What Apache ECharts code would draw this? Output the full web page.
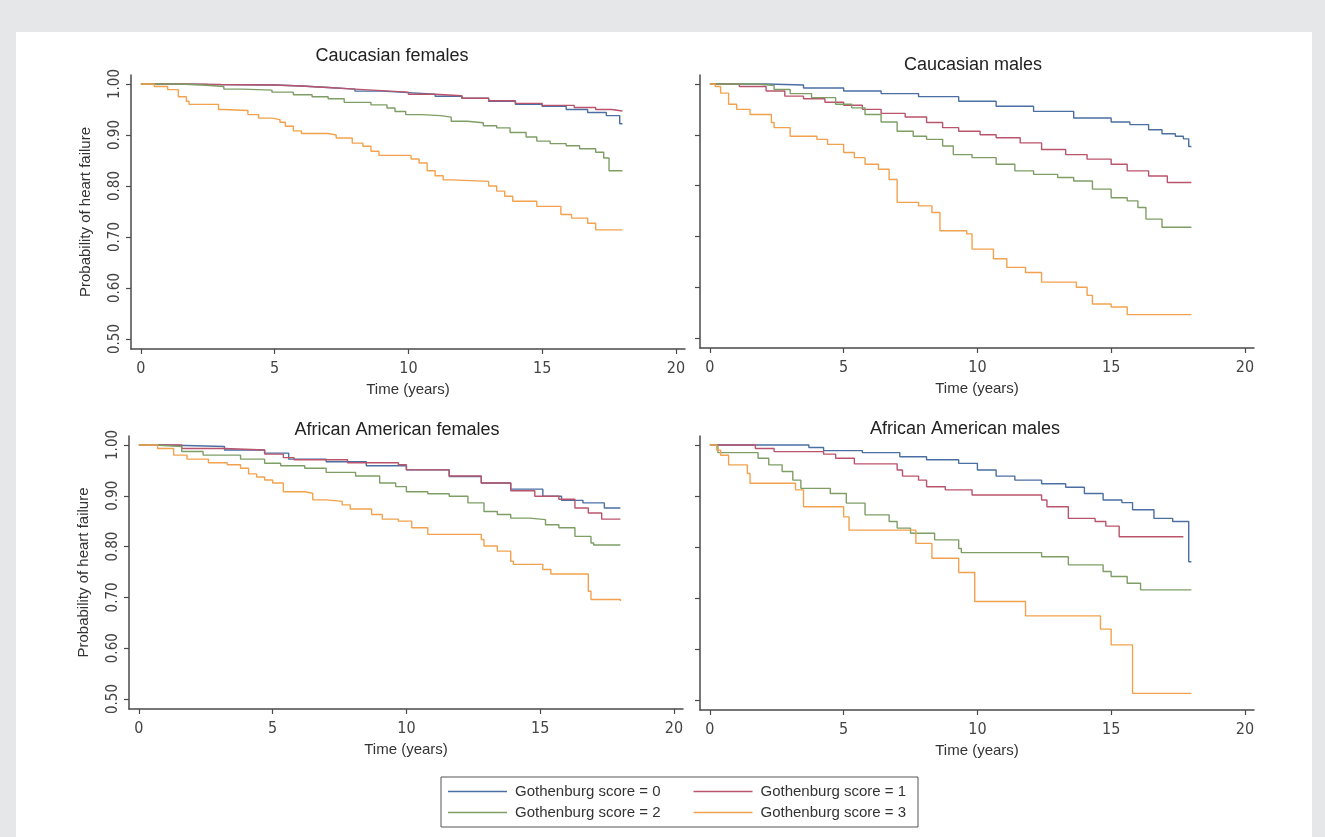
<!DOCTYPE html>
<html>
<head>
<meta charset="utf-8">
<script src="https://cdn.jsdelivr.net/npm/echarts@6/dist/echarts.min.js"></script>
<style>
  html, body { margin: 0; padding: 0; background: #e6e7e8; }
  #chart { width: 1325px; height: 837px; }
</style>
</head>
<body>
<div id="chart"></div>
<script>
// Kaplan-Meier steps: [time (years), survival after the drop]
const cauFem0 = [[0,1],[1,0.999],[2.5,0.998],[5,0.996],[6,0.993],[7,0.99],[8,0.986],[9,0.983],[10,0.98],[11,0.976],[12,0.972],[13,0.966],[14,0.96],[15,0.956],[15.9,0.95],[16.7,0.944],[17.4,0.938],[17.9,0.922],[18,0.922]];
const cauFem1 = [[0,1],[1.5,0.999],[3,0.998],[5,0.996],[6,0.993],[7,0.99],[8,0.987],[9,0.984],[10,0.98],[11,0.977],[12,0.972],[13,0.967],[14,0.962],[15,0.958],[16.2,0.954],[17,0.95],[17.6,0.947],[18,0.947]];
const cauFem2 = [[0,1],[1.4,0.998],[2.3,0.995],[3.1,0.99],[3.8,0.988],[4.9,0.984],[5.7,0.979],[6.4,0.975],[7.0,0.971],[7.6,0.964],[8.6,0.959],[9.2,0.953],[9.5,0.946],[9.9,0.94],[10.5,0.938],[11.2,0.935],[11.6,0.927],[12.2,0.924],[12.8,0.918],[13.3,0.914],[13.8,0.905],[14.4,0.896],[14.8,0.888],[15.3,0.883],[15.9,0.879],[16.4,0.873],[17.0,0.866],[17.3,0.855],[17.5,0.83],[18,0.83]];
const cauFem3 = [[0,1],[0.5,0.995],[1.0,0.989],[1.4,0.975],[1.7,0.966],[1.8,0.96],[2.9,0.95],[3.1,0.948],[4.0,0.94],[4.4,0.933],[4.9,0.93],[5.2,0.925],[5.4,0.917],[5.7,0.908],[6.0,0.903],[7.0,0.9],[7.3,0.894],[7.9,0.884],[8.3,0.878],[8.6,0.868],[8.9,0.86],[10.1,0.853],[10.4,0.845],[10.7,0.83],[11.0,0.82],[11.3,0.812],[11.6,0.809],[13.0,0.8],[13.3,0.79],[13.6,0.78],[13.9,0.77],[14.8,0.76],[15.7,0.744],[16.1,0.737],[16.7,0.727],[17.0,0.714],[18,0.713]];

const cauMal0 = [[0,1],[2.1,0.998],[3.5,0.992],[5,0.986],[6.4,0.981],[7.8,0.975],[9.3,0.966],[10.7,0.956],[12.1,0.946],[13.6,0.933],[15.0,0.925],[15.7,0.92],[16.4,0.91],[16.9,0.902],[17.4,0.897],[17.7,0.892],[17.9,0.877],[18,0.877]];
const cauMal1 = [[0,1],[1.1,0.995],[2.1,0.986],[2.8,0.976],[3.5,0.971],[4.3,0.964],[5.0,0.958],[5.7,0.95],[6.4,0.942],[7.3,0.935],[8.1,0.924],[8.7,0.914],[9.3,0.907],[10.1,0.9],[10.7,0.894],[11.6,0.884],[12.4,0.871],[13.3,0.861],[14.1,0.852],[15.0,0.842],[15.6,0.829],[16.4,0.819],[17.1,0.806],[18,0.805]];
const cauMal2 = [[0,1],[1.8,0.997],[2.4,0.989],[3.0,0.981],[3.8,0.973],[4.7,0.96],[5.3,0.953],[5.8,0.94],[6.4,0.925],[7.0,0.907],[7.6,0.897],[8.1,0.891],[8.7,0.878],[9.1,0.861],[9.8,0.855],[10.7,0.842],[11.4,0.829],[12.1,0.822],[13.0,0.816],[13.6,0.809],[14.3,0.793],[15.0,0.776],[15.6,0.77],[16.0,0.757],[16.3,0.734],[16.9,0.718],[18,0.718]];
const cauMal3 = [[0,1],[0.2,0.995],[0.4,0.982],[0.7,0.96],[1.0,0.95],[1.5,0.94],[2.3,0.924],[2.4,0.914],[3.0,0.897],[4.0,0.891],[4.4,0.881],[5.0,0.865],[5.4,0.855],[5.8,0.842],[6.3,0.832],[6.7,0.812],[7.0,0.767],[7.8,0.76],[8.3,0.747],[8.6,0.711],[9.6,0.705],[9.8,0.675],[10.6,0.656],[11.1,0.639],[11.8,0.629],[12.4,0.61],[13.7,0.6],[14.1,0.584],[14.3,0.567],[15.0,0.561],[15.6,0.546],[18,0.546]];

const afrFem0 = [[0,1],[1.0,0.997],[3.2,0.99],[4.7,0.984],[5.6,0.972],[7.0,0.967],[8.5,0.959],[10.0,0.951],[11.6,0.938],[12.8,0.925],[13.9,0.913],[15.1,0.899],[15.8,0.891],[16.6,0.886],[17.4,0.876],[18,0.876]];
const afrFem1 = [[0,1],[1.6,0.993],[3.2,0.99],[4.7,0.982],[5.4,0.975],[5.8,0.971],[7.8,0.965],[9.7,0.961],[10.0,0.951],[11.6,0.939],[12.8,0.925],[13.9,0.91],[14.8,0.899],[15.7,0.893],[16.3,0.876],[16.8,0.866],[17.3,0.854],[18,0.854]];
const afrFem2 = [[0,1],[0.6,0.997],[1.6,0.987],[2.4,0.98],[3.8,0.972],[4.7,0.964],[5.3,0.959],[6.2,0.954],[7.0,0.946],[8.1,0.939],[9.0,0.925],[9.6,0.918],[10.0,0.908],[10.8,0.904],[11.6,0.899],[12.3,0.886],[12.9,0.869],[13.4,0.863],[13.9,0.856],[14.6,0.853],[15.2,0.843],[15.7,0.837],[16.3,0.82],[16.9,0.807],[17.0,0.803],[18,0.803]];
const afrFem3 = [[0,1],[0.7,0.993],[1.3,0.98],[1.8,0.972],[2.6,0.965],[3.3,0.961],[3.8,0.954],[4.1,0.943],[4.4,0.937],[4.7,0.931],[5.0,0.925],[5.4,0.908],[6.2,0.905],[6.5,0.892],[7.0,0.889],[7.6,0.882],[7.9,0.874],[8.7,0.863],[9.1,0.854],[9.7,0.85],[10.2,0.837],[10.8,0.824],[12.8,0.814],[12.9,0.801],[13.4,0.791],[13.9,0.771],[14.0,0.765],[15.1,0.755],[15.4,0.746],[16.8,0.712],[16.9,0.696],[18,0.693]];

const afrMal0 = [[0,1],[3.7,0.995],[4.25,0.989],[5.7,0.985],[7.1,0.977],[8.1,0.971],[9.3,0.964],[10.0,0.951],[10.7,0.939],[11.4,0.931],[12.4,0.924],[13.3,0.917],[14.0,0.905],[14.7,0.892],[15.4,0.887],[15.8,0.873],[16.6,0.856],[17.3,0.85],[17.9,0.771],[18,0.771]];
const afrMal1 = [[0,1],[1.7,0.993],[2.4,0.987],[4.25,0.982],[4.7,0.974],[5.4,0.963],[7.0,0.951],[7.2,0.939],[7.8,0.931],[8.1,0.918],[8.8,0.912],[9.8,0.902],[12.4,0.892],[12.6,0.879],[13.4,0.856],[14.4,0.85],[14.8,0.841],[15.3,0.82],[17.7,0.82]];
const afrMal2 = [[0,1],[0.3,0.985],[1.8,0.974],[2.2,0.961],[2.7,0.948],[3.1,0.931],[3.4,0.915],[4.5,0.905],[5.1,0.886],[5.8,0.863],[6.7,0.85],[7.0,0.837],[7.5,0.827],[8.4,0.814],[9.3,0.797],[9.4,0.789],[12.4,0.781],[13.4,0.765],[14.7,0.752],[15.0,0.742],[15.6,0.729],[16.1,0.716],[18,0.716]];
const afrMal3 = [[0,1],[0.25,0.99],[0.4,0.98],[0.7,0.961],[1.4,0.944],[1.5,0.925],[3.2,0.912],[3.5,0.879],[5.0,0.859],[5.2,0.833],[7.7,0.807],[8.3,0.778],[9.3,0.75],[9.9,0.693],[11.8,0.665],[14.6,0.639],[15.0,0.608],[15.8,0.513],[18,0.513]];

const scoreNames = ['Gothenburg score = 0', 'Gothenburg score = 1', 'Gothenburg score = 2', 'Gothenburg score = 3'];
const panelTitles = ['Caucasian females', 'Caucasian males', 'African American females', 'African American males'];
const xTicks = [0, 5, 10, 15, 20];
const yTicks = [0.5, 0.6, 0.7, 0.8, 0.9, 1.0];

const panelData = [
  [cauFem0, cauFem1, cauFem2, cauFem3],
  [cauMal0, cauMal1, cauMal2, cauMal3],
  [afrFem0, afrFem1, afrFem2, afrFem3],
  [afrMal0, afrMal1, afrMal2, afrMal3],
];

const colors = ['#4b6fa3', '#b9546c', '#7f9e65', '#f2a24e'];
const axisColor = '#4a4a4a';
const narrow = "'Liberation Sans Narrow', 'Arial Narrow', 'DejaVu Sans Condensed', sans-serif";
const regular = "'Liberation Sans', Arial, sans-serif";

const grids = [
  { left: 131, top: 75, width: 554, height: 274 },
  { left: 700, top: 75, width: 554, height: 273 },
  { left: 129, top: 436, width: 554, height: 273 },
  { left: 700, top: 436, width: 554, height: 274 },
];
const titlePos = [[392, 47], [973, 56], [397, 421], [965, 420]];

const chart = echarts.init(document.getElementById('chart'), null, { renderer: 'canvas' });

const xAxes = grids.map((g, i) => ({
  type: 'value',
  gridIndex: i,
  min: -0.37,
  max: 20.34,
  name: 'Time (years)',
  nameLocation: 'middle',
  nameGap: 33,
  nameTextStyle: { fontFamily: regular, fontSize: 15, color: '#333' },
  axisLine: { show: true, onZero: false, lineStyle: { color: axisColor, width: 1.5 } },
  axisTick: { show: true, length: 5, customValues: xTicks, lineStyle: { color: axisColor, width: 1.2 } },
  axisLabel: {
    customValues: xTicks, margin: 12,
    fontFamily: narrow, fontSize: 16, color: '#444',
  },
  splitLine: { show: false },
}));

const yAxes = grids.map((g, i) => ({
  type: 'value',
  gridIndex: i,
  min: 0.4804,
  max: 1.0176,
  name: i % 2 === 0 ? 'Probability of heart failure' : '',
  nameLocation: 'middle',
  nameGap: 38,
  nameTextStyle: { fontFamily: regular, fontSize: 15, color: '#333' },
  axisLine: { show: true, onZero: false, lineStyle: { color: axisColor, width: 1.5 } },
  axisTick: { show: true, length: 5, customValues: yTicks, lineStyle: { color: axisColor, width: 1.2 } },
  axisLabel: {
    show: i % 2 === 0,
    customValues: yTicks, rotate: 90, margin: 8,
    formatter: v => v.toFixed(2),
    fontFamily: narrow, fontSize: 15, color: '#444',
  },
  splitLine: { show: false },
}));

const series = [];
panelData.forEach((curves, p) => {
  curves.forEach((pts, k) => {
    series.push({
      name: scoreNames[k],
      type: 'line',
      step: 'end',
      xAxisIndex: p,
      yAxisIndex: p,
      data: pts,
      showSymbol: false,
      symbol: 'none',
      color: colors[k],
      lineStyle: { color: colors[k], width: 1.4 },
      animation: false,
    });
  });
});

const legendBase = {
  orient: 'horizontal',
  icon: 'rect',
  itemWidth: 59,
  itemHeight: 1.5,
  itemGap: 33,
  selectedMode: false,
  padding: 0,
  textStyle: { fontFamily: regular, fontSize: 15, color: '#333', padding: [0, 0, 0, 3] },
};

chart.setOption({
  backgroundColor: '#e6e7e8',
  animation: false,
  graphic: [
    { type: 'rect', z: -10, shape: { x: 16, y: 32, width: 1296, height: 820 }, style: { fill: '#ffffff' } },
    { type: 'rect', z: 10, shape: { x: 441, y: 777, width: 477, height: 50 }, style: { fill: 'none', stroke: '#555', lineWidth: 1 } },
  ],
  title: panelTitles.map((t, i) => ({
    text: t,
    left: titlePos[i][0],
    top: titlePos[i][1],
    textAlign: 'center',
    padding: 0,
    textStyle: { fontFamily: regular, fontSize: 18, fontWeight: 'normal', color: '#222' },
  })),
  legend: [
    Object.assign({}, legendBase, { data: scoreNames.slice(0, 2), left: 448, top: 784 }),
    Object.assign({}, legendBase, { data: scoreNames.slice(2, 4), left: 448, top: 805 }),
  ],
  grid: grids,
  xAxis: xAxes,
  yAxis: yAxes,
  series: series,
});
</script>
</body>
</html>
